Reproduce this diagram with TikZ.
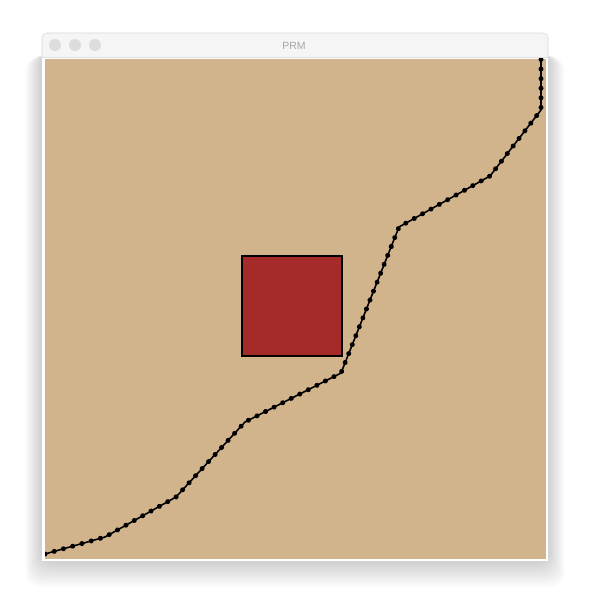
\documentclass[tikz,border=0pt]{standalone}
\usepackage{fontspec}
\setsansfont{Liberation Sans}
\usetikzlibrary{decorations.markings}
\definecolor{tan}{RGB}{210,180,140}
\definecolor{obst}{RGB}{165,42,42}
\definecolor{titlebg}{RGB}{245,245,245}
\definecolor{btn}{RGB}{220,220,220}
\definecolor{titletxt}{RGB}{165,165,165}
\tikzset{
  window/.style={fill=titlebg, draw=black!15, line width=0.6pt, rounded corners=5pt},
  shadowlayer/.style={fill=black, fill opacity=0.007, rounded corners=14pt},
  tlbtn/.style={fill=btn, draw=black!12, line width=0.4pt},
  obstacle/.style={fill=obst, draw=black, line width=1.6pt},
  route/.style={draw=black, line width=1.6pt, line join=round,
    postaction={decorate},
    decoration={markings, mark=between positions 0 and 1 step 9.6pt with {\fill[black] (0,0) circle (2.5pt);}}}
}
\begin{document}
\begin{tikzpicture}[x=1pt,y=-1pt]
\useasboundingbox (0,0) rectangle (590,612);
\fill[white] (0,0) rectangle (590,612);
% shadow
\foreach \i in {1,...,24} {
  \path[shadowlayer] (42-\i*0.7,50+\i*0.3) rectangle (548+\i*0.7,561+\i*1.1);
}
% window
\path[window] (42,33) rectangle (548,561);
\fill[white] (42,57) rectangle (548,561);
\draw[black!12, line width=0.6pt] (42,57) -- (548,57);
\path[tlbtn] (55,45) circle (5.8pt);
\path[tlbtn] (75,45) circle (5.8pt);
\path[tlbtn] (95,45) circle (5.8pt);
\node[text=titletxt, font=\sffamily\fontsize{10.5}{12}\selectfont] (title) at (294,45.5) {PRM};
% canvas
\fill[tan] (45,59) rectangle (546,559);
% obstacle
\path[obstacle] (242,256) rectangle (342,356);
% path
\coordinate (p0) at (45,554);
\coordinate (p1) at (105,537);
\coordinate (p2) at (176,497);
\coordinate (p3) at (245,422);
\coordinate (p4) at (341,373);
\coordinate (p5) at (399,227);
\coordinate (p6) at (490,176);
\coordinate (p7) at (541,110);
\coordinate (p8) at (541,59);
\begin{scope}
\clip (45,59) rectangle (546,559);
\path[route] (p0) -- (p1) -- (p2) -- (p3) -- (p4) -- (p5) -- (p6) -- (p7) -- (p8);
\end{scope}
\end{tikzpicture}
\end{document}
